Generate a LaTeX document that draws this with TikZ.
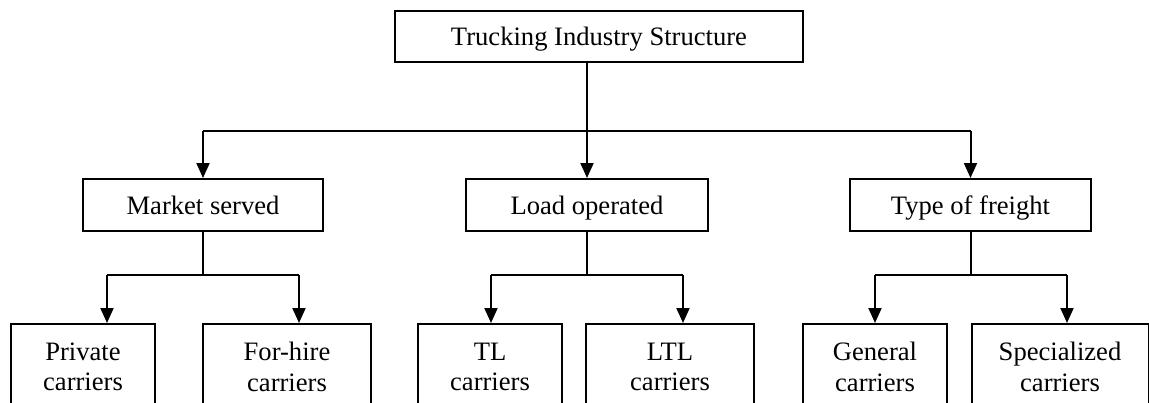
\documentclass[tikz,border=0pt]{standalone}
\usepackage{fontspec}
\setmainfont{Liberation Serif}
\usetikzlibrary{arrows.meta}

\begin{document}
\begin{tikzpicture}[x=1pt, y=-1pt,
  box/.style={draw, line width=2pt, rectangle, inner sep=0pt,
    font=\fontsize{26.6}{30.5}\selectfont},
  single/.style={box, text height=18pt, text depth=0pt, minimum height=52pt},
  leaf/.style={box, align=center, anchor=north, minimum height=86pt},
  link/.style={line width=2pt},
  arr/.style={link, -{Triangle[width=13pt, length=15pt]}}]

  \clip (0,0) rectangle (1149,402);
  \fill[white] (0,0) rectangle (1149,402);

  % root
  \node[single, minimum width=408pt, minimum height=51pt] (root) at (599,36.5) {Trucking Industry Structure};

  % classification criteria
  \node[single, minimum width=240pt] (mkt)  at (203,205)   {Market served};
  \node[single, minimum width=242pt] (load) at (587,205)   {Load operated};
  \node[single, minimum width=241pt] (frt)  at (970.5,205) {Type of freight};

  % carrier categories (open at the bottom edge)
  \node[leaf, minimum width=144pt] (priv) at (83,323)     {Private\\carriers};
  \node[leaf, minimum width=168pt] (hire) at (287,323)    {For-hire\\carriers};
  \node[leaf, minimum width=144pt] (tl)   at (490,323)    {TL\\carriers};
  \node[leaf, minimum width=168pt] (ltl)  at (670,323)    {LTL\\carriers};
  \node[leaf, minimum width=144pt] (gen)  at (875,323)    {General\\carriers};
  \node[leaf, minimum width=177pt] (spec) at (1060,323)   {Specialized\\carriers};

  % first level bus
  \coordinate (bus) at (0,131);
  \draw[arr] (root.south -| load.north) -- (load.north);
  \draw[link] (mkt.north |- bus) -- (frt.north |- bus);
  \draw[arr] (mkt.north |- bus) -- (mkt.north);
  \draw[arr] (frt.north |- bus) -- (frt.north);

  % second level branches
  \coordinate (m1) at (107,275);  \coordinate (m2) at (299,275);
  \coordinate (l1) at (491,275);  \coordinate (l2) at (683,275);
  \coordinate (f1) at (875,275);  \coordinate (f2) at (1067,275);

  \draw[link] (mkt.south) -- (mkt.south |- m1);
  \draw[link] (m1) -- (m2);
  \draw[arr] (m1) -- (m1 |- priv.north);
  \draw[arr] (m2) -- (m2 |- hire.north);

  \draw[link] (load.south) -- (load.south |- l1);
  \draw[link] (l1) -- (l2);
  \draw[arr] (l1) -- (l1 |- tl.north);
  \draw[arr] (l2) -- (l2 |- ltl.north);

  \draw[link] (frt.south) -- (frt.south |- f1);
  \draw[link] (f1) -- (f2);
  \draw[arr] (f1) -- (f1 |- gen.north);
  \draw[arr] (f2) -- (f2 |- spec.north);
\end{tikzpicture}
\end{document}
